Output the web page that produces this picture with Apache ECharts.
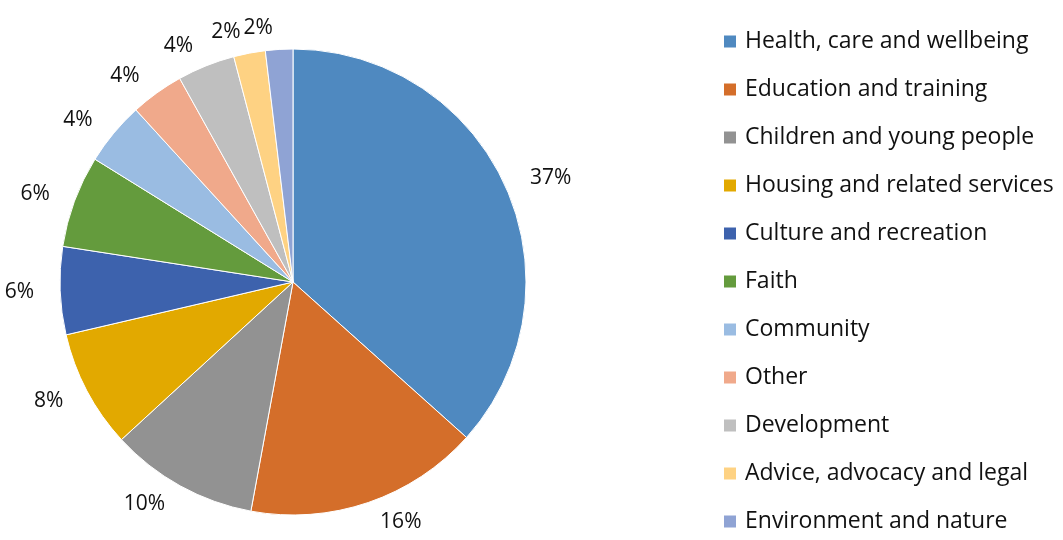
<!DOCTYPE html>
<html>
<head>
<meta charset="utf-8">
<script src="https://cdn.jsdelivr.net/npm/echarts@6/dist/echarts.min.js"></script>
<style>
  html, body { margin: 0; padding: 0; background: #fff; }
  #chart { width: 1063px; height: 540px; }
</style>
</head>
<body>
<div id="chart"></div>
<script>
const categories = [
  "Health, care and wellbeing",
  "Education and training",
  "Children and young people",
  "Housing and related services",
  "Culture and recreation",
  "Faith",
  "Community",
  "Other",
  "Development",
  "Advice, advocacy and legal",
  "Environment and nature"
];
// share of organisations (%)
const shares = [36.7, 16.3, 10.3, 8.2, 6.1, 6.4, 4.4, 3.7, 4.0, 2.2, 1.9];
const colors = [
  "#4f89c0", "#d46e2a", "#929292", "#e2a900", "#3d62ad", "#649b3d",
  "#9abce2", "#f0a98b", "#bfbfbf", "#fed283", "#8fa3d4"
];

const chart = echarts.init(document.getElementById("chart"));
const font = "Open Sans";

chart.setOption({
  animation: false,
  legend: {
    orient: "vertical",
    left: 722,
    top: 30,
    bottom: 0,
    padding: 0,
    itemWidth: 14,
    itemHeight: 14,
    itemGap: 25,
    icon: "rect",
    textStyle: { fontFamily: font, fontSize: 23, lineHeight: 22, color: "#111", padding: [0, 0, 0, 3] },
    data: categories
  },
  series: [
    {
      type: "pie",
      center: [293, 282],
      radius: 233,
      startAngle: 90,
      clockwise: true,
      avoidLabelOverlap: false,
      percentPrecision: 2,
      itemStyle: { borderColor: "#fff", borderWidth: 1 },
      label: {
        show: true,
        position: "outside",
        formatter: (p) => Math.round(p.percent) + "%",
        fontFamily: font,
        fontSize: 21,
        color: "#111"
      },
      labelLine: { show: false, length: 21, length2: 0 },
      emphasis: { disabled: true },
      data: categories.map((name, i) => ({
        name,
        value: shares[i],
        itemStyle: { color: colors[i] }
      }))
    }
  ]
});
</script>
</body>
</html>
